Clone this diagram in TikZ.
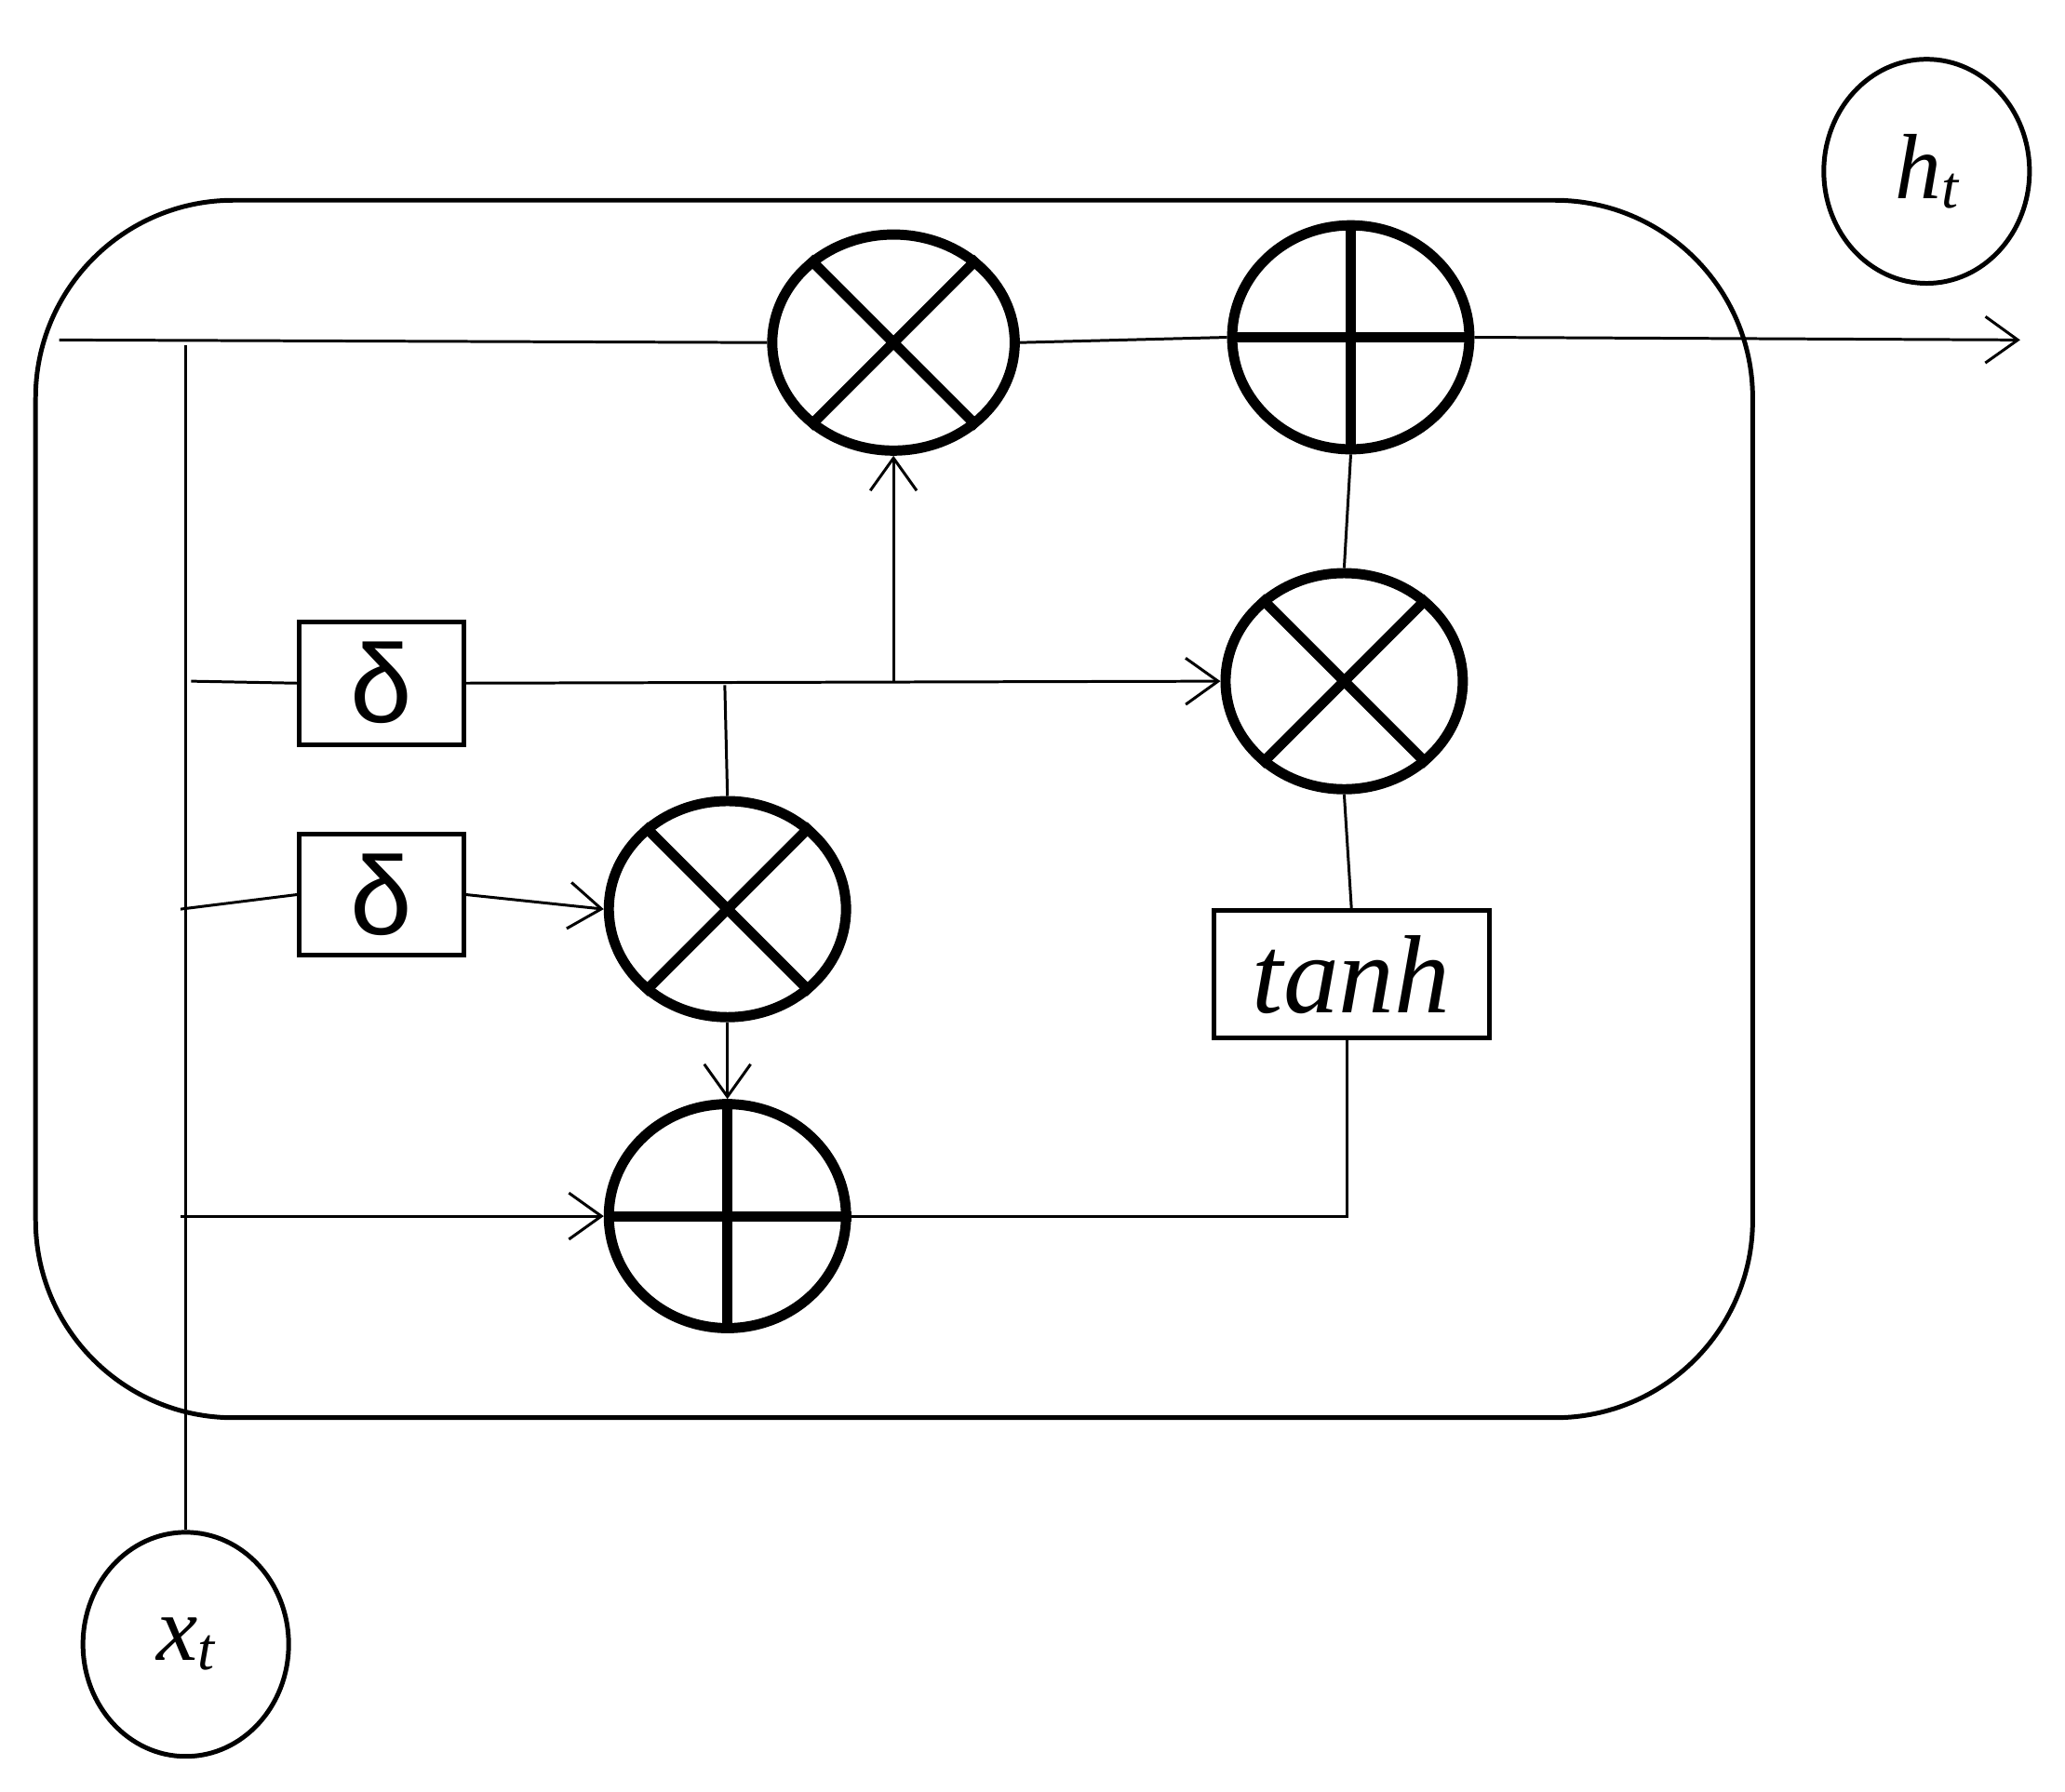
\documentclass[tikz,border=0pt]{standalone}
\usepackage{fontspec}
\setmainfont{Liberation Serif}
\newfontfamily\sansf{Liberation Sans}
\usetikzlibrary{arrows.meta,shapes.geometric}
\begin{document}
\begin{tikzpicture}[x=0.01cm,y=-0.01cm,
  ln/.style={line width=0.6pt},
  ar/.style={ln,-{Straight Barb[length=7pt,width=10pt]}},
  op/.style={ellipse,draw,line width=2pt,minimum width=180\pgflinewidth,inner sep=0pt},
  bx/.style={draw,line width=1pt,inner sep=0pt},
  cir/.style={ellipse,draw,line width=1pt,minimum width=1.56cm,minimum height=1.7cm,inner sep=0pt}]
\useasboundingbox (0,0) rectangle (1567,1360);
\draw[line width=1pt,rounded corners=1.5cm] (27,152) rectangle (1330,1076);
\node[cir] (xt) at (141,1248) {\fontsize{20}{24}\selectfont\itshape x\raisebox{-2pt}{\fontsize{13}{14}\selectfont t}};
\node[cir] (ht) at (1462,130) {\fontsize{20}{24}\selectfont\itshape h\raisebox{-2pt}{\fontsize{13}{14}\selectfont t}};
% operators
\foreach \n/\x/\y/\rx/\ry in {mt/678/260/92/82, mr/1020/517/90/82, mm/552/690/90/82}{
  \node[ellipse,draw,line width=2.2pt,minimum width=2*\rx*0.01cm,minimum height=2*\ry*0.01cm,inner sep=0pt] (\n) at (\x,\y) {};
  \draw[line width=2.2pt] (\n.45) -- (\n.225) (\n.135) -- (\n.315);
}
\foreach \n/\x/\y/\rx/\ry in {pt/1025/256/90/85, pb/552/923/90/85}{
  \node[ellipse,draw,line width=2.2pt,minimum width=2*\rx*0.01cm,minimum height=2*\ry*0.01cm,inner sep=0pt] (\n) at (\x,\y) {};
  \draw[line width=2.2pt] (\n.north) -- (\n.south) (\n.west) -- (\n.east);
}
\node[bx,minimum width=1.25cm,minimum height=0.93cm] (d1) at (289.5,518.5) {\sansf\fontsize{24}{26}\selectfont δ};
\node[bx,minimum width=1.25cm,minimum height=0.92cm] (d2) at (289.5,679) {\sansf\fontsize{24}{26}\selectfont δ};
\node[bx,minimum width=2.09cm,minimum height=0.97cm] (th) at (1025.5,739.5) {\fontsize{24}{26}\selectfont\itshape tanh};
% main line
\coordinate (L) at (45,258);
\coordinate (R) at (1533,258);
\draw[ln] (L) -- (mt.west);
\draw[ln] (mt.east) -- (pt.west);
\draw[ar] (pt.east) -- (R);
% x_t vertical
\coordinate (vt) at (141,262);
\draw[ln] (xt.north) -- (vt);
\coordinate (a1) at (145,517);
\coordinate (a2) at (137,690);
\coordinate (a3) at (137,923);
\draw[ln] (a1) -- (d1.west);
\draw[ar] (d1.east) -- (mr.west);
\coordinate (j1) at (678,517);
\draw[ar] (j1) -- (mt.south);
\coordinate (j2) at (550,520);
\draw[ln] (j2) -- (mm.north);
\draw[ln] (a2) -- (d2.west);
\draw[ar] (d2.east) -- (mm.west);
\draw[ar] (mm.south) -- (pb.north);
\draw[ar] (a3) -- (pb.west);
\coordinate (k) at (1022,923);
\draw[ln] (pb.east) -- (k) -- (th.south -| k);
\draw[ln] (th.north) -- (mr.south);
\draw[ln] (mr.north) -- (pt.south);
\end{tikzpicture}
\end{document}
